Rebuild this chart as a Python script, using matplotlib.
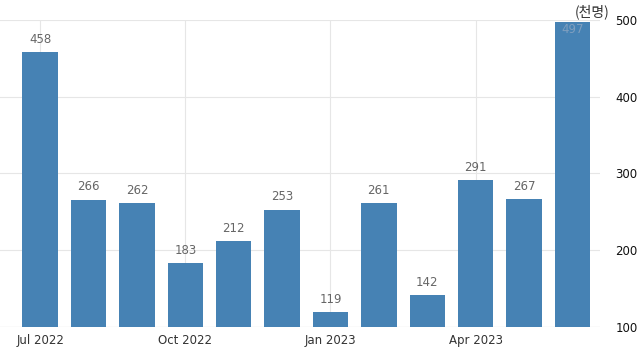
import matplotlib
matplotlib.use("Agg")
import matplotlib.pyplot as plt

plt.rcParams['font.family'] = ['DejaVu Sans', 'Noto Sans CJK KR']

months = ["Jul 2022", "Aug 2022", "Sep 2022", "Oct 2022", "Nov 2022", "Dec 2022",
          "Jan 2023", "Feb 2023", "Mar 2023", "Apr 2023", "May 2023", "Jun 2023"]
values = [458, 266, 262, 183, 212, 253, 119, 261, 142, 291, 267, 497]
tick_idx = [0, 3, 6, 9]
yticks = [100, 200, 300, 400, 500]

fig = plt.figure(figsize=(6.4, 3.62), dpi=100)
ax = fig.add_axes([0.0, 35 / 362, 600 / 640, 307 / 362])

x = list(range(len(values)))
ax.bar(x, [v - 100 for v in values], bottom=100, width=0.73, color="#4682b4", zorder=2)
ax.set_xlim(-0.83, 11.57)
ax.set_ylim(100, 500)

for i, v in enumerate(values):
    if v > 480:
        ax.text(i, 488, str(v), ha="center", va="center", fontsize=8.5, color="#7f9fbf", zorder=3)
    else:
        ax.text(i, v + 8, str(v), ha="center", va="bottom", fontsize=8.5, color="#666666", zorder=3)

ax.set_xticks(tick_idx)
ax.set_xticklabels([months[i] for i in tick_idx], fontsize=8.5, color="#333333")
ax.yaxis.tick_right()
ax.set_yticks(yticks)
ax.set_yticklabels([str(t) for t in yticks], fontsize=8.5, color="#111111")
ax.tick_params(axis="both", length=0, pad=5)
ax.tick_params(axis="y", pad=11)
ax.grid(True, color="#e6e6e6", linewidth=0.8, zorder=0)
for s in ax.spines.values():
    s.set_visible(False)
ax.axhline(100, color="#cccccc", linewidth=0.8, zorder=1)

fig.text(592 / 640, 1 - 12 / 362, "(천명)", ha="center", va="center", fontsize=10,
         color="#333333", family=["Noto Sans CJK KR", "DejaVu Sans"])

fig.savefig("out.png", dpi=100)
